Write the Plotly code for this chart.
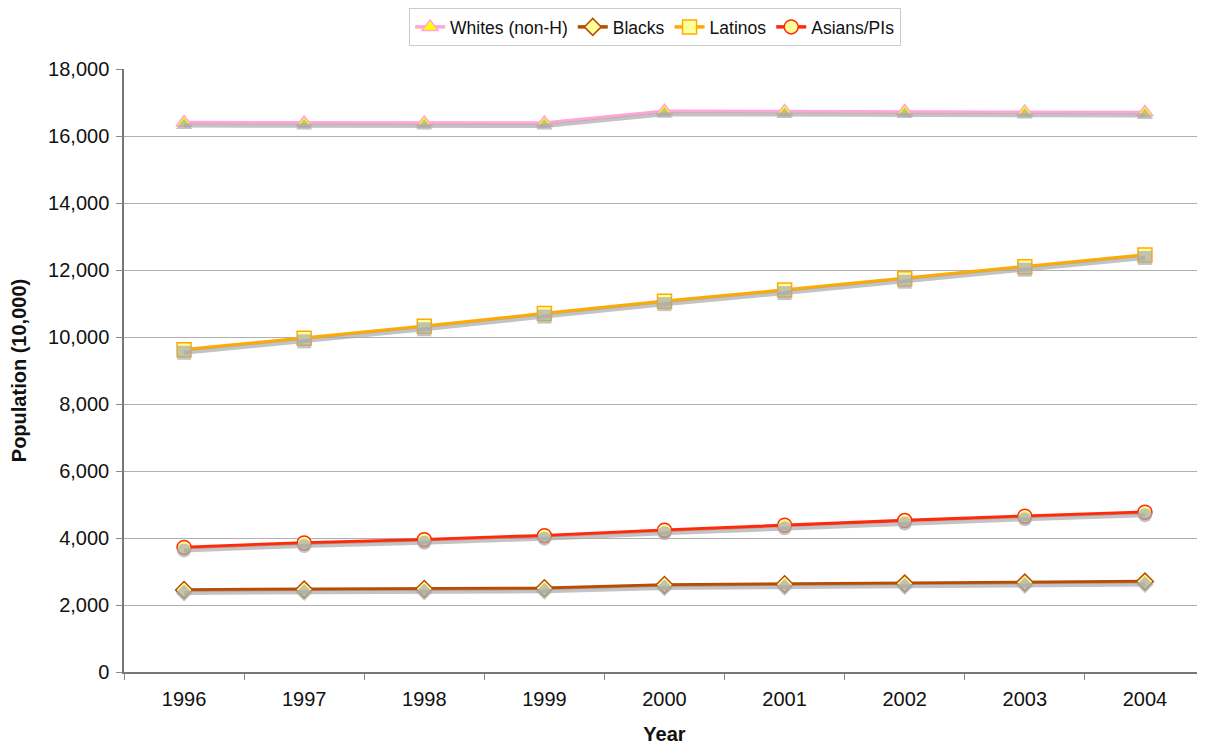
import plotly.graph_objects as go

years = ["1996", "1997", "1998", "1999", "2000", "2001", "2002", "2003", "2004"]
whites = [16400, 16390, 16390, 16390, 16740, 16735, 16730, 16720, 16700]
blacks = [2450, 2460, 2480, 2500, 2600, 2620, 2640, 2670, 2700]
latinos = [9620, 9960, 10320, 10700, 11070, 11400, 11740, 12100, 12450]
asians = [3720, 3850, 3950, 4070, 4230, 4380, 4520, 4650, 4770]

series = [
    ("Whites (non-H)", whites, "#ffa6d6", "triangle-up", "#ffff00", "#ffa6d6", 14),
    ("Blacks", blacks, "#b84c00", "diamond", "#ffff99", "#b84c00", 13),
    ("Latinos", latinos, "#ffaa00", "square", "#ffff99", "#ffaa00", 14),
    ("Asians/PIs", asians, "#ff2a0a", "circle", "#ffff99", "#ff2a0a", 14),
]

fig = go.Figure()
# shadows
for name, vals, lc, sym, fill, mlc, size in series:
    fig.add_trace(go.Scatter(
        x=years, y=vals, yaxis="y2", mode="lines+markers", showlegend=False,
        hoverinfo="skip",
        line=dict(color="rgba(170,170,170,0.7)", width=4),
        marker=dict(symbol=sym, size=size, color="rgba(170,170,170,0.7)",
                    line=dict(width=0)),
    ))
for name, vals, lc, sym, fill, mlc, size in series:
    fig.add_trace(go.Scatter(
        x=years, y=vals, name=name, mode="lines+markers",
        line=dict(color=lc, width=3.5),
        marker=dict(symbol=sym, size=size, color=fill, line=dict(color=mlc, width=1.5)),
    ))

font = "Liberation Sans, Arial, Helvetica, sans-serif"
fig.update_layout(
    width=1205, height=744,
    margin=dict(l=116, r=8, t=61, b=80),
    paper_bgcolor="white", plot_bgcolor="white",
    font=dict(family=font, size=20, color="#111"),
    legend=dict(orientation="h", x=0.537, xanchor="center", y=1.0, yanchor="top",
                yref="container", xref="container",
                bordercolor="#cccccc", borderwidth=1, font=dict(size=17.5),
                tracegroupgap=0),
    xaxis=dict(
        type="category", range=[-0.5, 8.5], tickson="boundaries",
        ticks="outside", ticklen=6, tickcolor="#888", ticklabelstandoff=8,
        showgrid=False, showline=True, linecolor="#777", linewidth=1.5,
        title=dict(text="<b>Year</b>", font=dict(size=20), standoff=18),
        tickfont=dict(size=20), automargin=False,
    ),
    yaxis=dict(
        range=[0, 18000], dtick=2000, tickformat=",d",
        ticks="outside", ticklen=6, tickcolor="#888", ticklabelstandoff=3,
        showgrid=True, gridcolor="#b0b0b0", gridwidth=1,
        showline=True, linecolor="#777", linewidth=1.5,
        title=dict(text="<b>Population (10,000)</b>", font=dict(size=20), standoff=16),
        tickfont=dict(size=20), zeroline=False, automargin=False,
    ),
    yaxis2=dict(
        range=[90, 18090], overlaying="y", visible=False, showgrid=False,
    ),
)
fig.write_html("out.html")
